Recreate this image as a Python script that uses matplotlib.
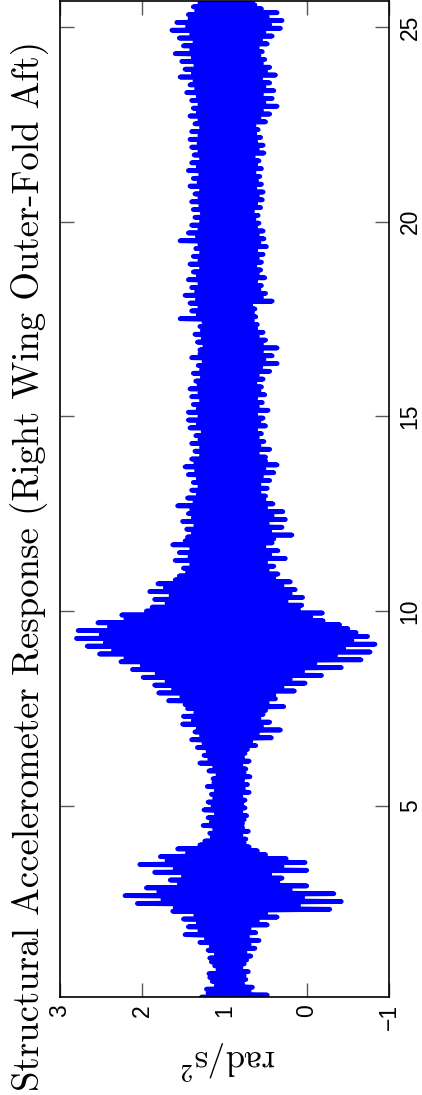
import numpy as np
import matplotlib
matplotlib.use("Agg")
import matplotlib.pyplot as plt

plt.rcParams['mathtext.fontset'] = 'cm'

title = "Structural Accelerometer Response (Right Wing Outer-Fold Aft)"
ylabel = r"rad/s$^2$"
time_ticks = [5, 10, 15, 20, 25]
value_ticks = [3, 2, 1, 0, -1]
value_labels = ['3', '2', '1', '0', '\u22121']
t_start, t_end = 0.08, 25.67

# alternating peak values of the response (~0.05 s apart)
accel = [
    1.28, 0.48, 1.20, 0.70, 1.22, 0.66, 1.10, 0.78, 1.15, 0.74, 1.18, 0.76, 1.19, 0.71, 1.08, 0.80, 1.12, 0.76, 1.16, 0.73,
    1.18, 0.68, 1.10, 0.75, 1.20, 0.63, 1.16, 0.70, 1.30, 0.58, 1.22, 0.72, 1.48, 0.62, 1.30, 0.70, 1.44, 0.48, 1.32, 0.60,
    1.50, 0.36, 1.35, 0.50, 1.63, -0.28, 1.60, 0.10, 2.06, -0.42, 1.75, 0.05, 2.21, -0.33, 1.80, 0.20, 1.95, 0.00, 1.55, 0.35,
    1.66, 0.30, 1.50, 0.45, 1.85, 0.00, 1.60, 0.30, 2.03, 0.02, 1.70, 0.25, 1.78, 0.50, 1.45, 0.60, 1.57, 0.70, 1.30, 0.76,
    1.24, 0.74, 1.15, 0.80, 1.18, 0.71, 1.12, 0.78, 1.26, 0.78, 1.16, 0.76, 1.20, 0.73, 1.10, 0.80, 1.25, 0.75, 1.14, 0.79,
    1.20, 0.75, 1.12, 0.80, 1.16, 0.70, 1.10, 0.77, 1.21, 0.72, 1.13, 0.78, 1.14, 0.69, 1.08, 0.76, 1.19, 0.74, 1.12, 0.80,
    1.30, 0.70, 1.18, 0.78, 1.25, 0.75, 1.20, 0.72, 1.33, 0.62, 1.25, 0.68, 1.40, 0.43, 1.28, 0.60, 1.36, 0.32, 1.32, 0.55,
    1.51, 0.45, 1.38, 0.58, 1.50, 0.53, 1.35, 0.50, 1.45, 0.28, 1.48, 0.48, 1.68, 0.38, 1.52, 0.40, 1.80, 0.15, 1.62, 0.30,
    1.85, 0.02, 1.70, 0.20, 1.99, -0.18, 1.82, 0.05, 2.12, -0.42, 2.00, -0.10, 2.26, -0.66, 2.20, -0.35, 2.52, -0.77, 2.35, -0.45,
    2.67, -0.83, 2.45, -0.55, 2.80, -0.74, 2.50, -0.60, 2.78, -0.50, 2.40, -0.40, 2.54, -0.20, 2.20, -0.05, 2.25, -0.19, 1.95, 0.10,
    1.88, 0.06, 1.70, 0.25, 1.85, 0.05, 1.65, 0.20, 1.91, 0.14, 1.72, 0.30, 1.81, 0.20, 1.60, 0.40, 1.55, 0.35, 1.45, 0.48,
    1.50, 0.40, 1.40, 0.50, 1.60, 0.26, 1.42, 0.45, 1.55, 0.35, 1.40, 0.52, 1.63, 0.42, 1.48, 0.40, 1.45, 0.18, 1.38, 0.45,
    1.46, 0.30, 1.35, 0.48, 1.51, 0.26, 1.38, 0.42, 1.44, 0.29, 1.40, 0.50, 1.57, 0.41, 1.36, 0.52, 1.45, 0.50, 1.32, 0.58,
    1.40, 0.48, 1.30, 0.58, 1.38, 0.45, 1.32, 0.55, 1.44, 0.40, 1.34, 0.52, 1.48, 0.36, 1.35, 0.50, 1.40, 0.50, 1.28, 0.60,
    1.36, 0.45, 1.28, 0.58, 1.40, 0.52, 1.30, 0.60, 1.35, 0.55, 1.26, 0.62, 1.42, 0.50, 1.32, 0.58, 1.44, 0.53, 1.30, 0.62,
    1.44, 0.47, 1.32, 0.60, 1.38, 0.54, 1.28, 0.62, 1.40, 0.51, 1.30, 0.58, 1.42, 0.55, 1.31, 0.63, 1.35, 0.53, 1.27, 0.60,
    1.38, 0.45, 1.28, 0.56, 1.32, 0.36, 1.25, 0.52, 1.40, 0.42, 1.30, 0.55, 1.30, 0.36, 1.24, 0.55, 1.33, 0.50, 1.26, 0.60,
    1.36, 0.53, 1.27, 0.62, 1.30, 0.60, 1.25, 0.66, 1.54, 0.62, 1.32, 0.66, 1.40, 0.63, 1.30, 0.68, 1.42, 0.42, 1.33, 0.55,
    1.48, 0.50, 1.34, 0.58, 1.40, 0.55, 1.30, 0.62, 1.44, 0.51, 1.32, 0.60, 1.38, 0.56, 1.28, 0.63, 1.42, 0.55, 1.30, 0.60,
    1.38, 0.53, 1.28, 0.62, 1.35, 0.49, 1.30, 0.58, 1.54, 0.52, 1.33, 0.60, 1.44, 0.53, 1.30, 0.62, 1.40, 0.58, 1.28, 0.64,
    1.36, 0.59, 1.27, 0.66, 1.38, 0.56, 1.29, 0.62, 1.40, 0.54, 1.30, 0.60, 1.36, 0.53, 1.28, 0.63, 1.42, 0.55, 1.31, 0.61,
    1.38, 0.57, 1.29, 0.64, 1.44, 0.55, 1.32, 0.62, 1.40, 0.58, 1.28, 0.65, 1.37, 0.52, 1.30, 0.60, 1.40, 0.53, 1.31, 0.62,
    1.42, 0.56, 1.30, 0.63, 1.40, 0.59, 1.28, 0.64, 1.36, 0.50, 1.30, 0.58, 1.42, 0.45, 1.32, 0.55, 1.38, 0.36, 1.30, 0.52,
    1.40, 0.42, 1.32, 0.55, 1.46, 0.40, 1.34, 0.52, 1.42, 0.45, 1.36, 0.56, 1.54, 0.38, 1.38, 0.50, 1.48, 0.45, 1.35, 0.55,
    1.52, 0.51, 1.38, 0.58, 1.60, 0.54, 1.40, 0.60, 1.50, 0.48, 1.36, 0.56, 1.55, 0.42, 1.40, 0.52, 1.64, 0.32, 1.45, 0.45,
    1.58, 0.30, 1.42, 0.48, 1.44, 0.36, 1.34, 0.55, 1.38, 0.63, 1.30, 0.66,
]
time = np.linspace(t_start, t_end, len(accel))

W, H = 422, 1095
fig = plt.figure(figsize=(W / 100, H / 100), dpi=100)
ax = fig.add_axes([60 / W, 98 / H, (389 - 60) / W, (1094 - 98) / H])

ax.plot(accel, time, color=(0, 0, 1), lw=3.4,
        solid_capstyle='round', solid_joinstyle='round')

ax.set_xlim(3, -1)
ax.set_ylim(t_start, t_end)
ax.set_xticks(value_ticks)
ax.set_xticklabels(value_labels)
ax.set_yticks(time_ticks)
ax.set_yticklabels([str(v) for v in time_ticks])

ax.tick_params(axis='both', direction='in', length=10, width=1, color='0.35',
               top=True, bottom=True, left=True, right=True,
               labelleft=False, labelright=True, labelbottom=True, labeltop=False,
               labelsize=16.5)
ax.tick_params(axis='x', pad=5)
ax.tick_params(axis='y', pad=7)
for lab in ax.get_xticklabels() + ax.get_yticklabels():
    lab.set_rotation(90)
    lab.set_fontfamily('Liberation Sans')
for lab in ax.get_yticklabels():
    lab.set_va('center')
for s in ax.spines.values():
    s.set_linewidth(1.2)
    s.set_color('black')

fig.text(30 / W, 1 - 566 / H, title, rotation=90, ha='center', va='center',
         fontsize=26.5, fontfamily='cmr10')
fig.text(228 / W, 1 - 1060 / H, ylabel, rotation=180, ha='center', va='center',
         fontsize=25, fontfamily='cmr10')

fig.savefig('out.png', dpi=100)
